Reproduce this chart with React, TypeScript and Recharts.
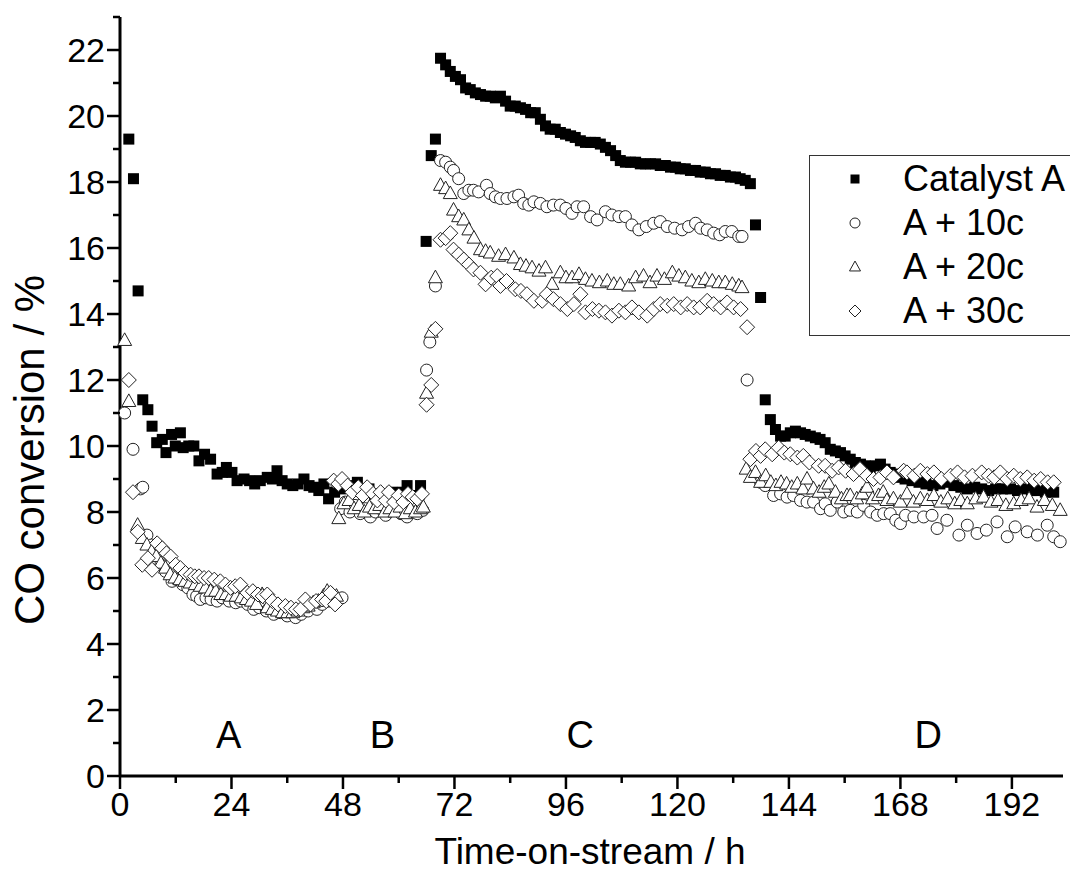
import { ScatterChart, Scatter, XAxis, YAxis, ReferenceDot, Legend } from "recharts"

// time-on-stream (h), CO conversion (%)
const catalystA: [number, number][] = [
  [1.9, 19.3], [2.9, 18.1], [3.9, 14.7], [4.9, 11.4], [6.0, 11.1], [6.9, 10.6], [7.9, 10.1], [9.1, 10.2], [9.9, 9.8],
  [11.1, 10.35], [11.9, 10.0], [13.0, 10.4], [13.6, 9.95], [14.8, 10.0], [15.9, 10.0], [17.0, 9.55], [18.2, 9.75],
  [19.5, 9.6], [20.9, 9.15], [22.0, 9.2], [22.9, 9.35], [24.1, 9.2], [25.2, 8.95], [26.7, 9.0], [27.9, 8.95],
  [29.0, 8.85], [30.2, 8.95], [31.7, 9.05], [32.8, 9.0], [33.8, 9.25], [34.9, 8.95], [36.0, 8.85], [37.2, 8.8],
  [38.3, 8.85], [39.6, 9.0], [40.7, 8.8], [41.7, 8.75], [42.8, 8.65], [43.9, 8.85], [44.9, 8.4], [46.2, 8.6],
  [47.5, 8.7], [48.8, 8.8], [50.0, 8.75], [51.1, 8.9], [52.4, 8.6], [53.6, 8.7], [54.8, 8.5], [56.0, 8.55],
  [57.3, 8.45], [58.5, 8.6], [59.7, 8.5], [60.8, 8.6], [61.8, 8.8], [63.0, 8.5], [64.7, 8.8],
  [65.9, 16.2], [67.0, 18.8], [67.9, 19.3], [69.0, 21.75], [70.1, 21.55], [71.1, 21.35], [72.2, 21.2], [73.3, 21.1],
  [74.4, 20.85], [75.4, 20.8], [76.5, 20.7], [77.6, 20.65], [78.7, 20.6], [79.7, 20.6], [80.8, 20.55], [81.9, 20.6],
  [83.0, 20.45], [84.0, 20.3], [85.1, 20.3], [86.2, 20.25], [87.3, 20.2], [88.4, 20.1], [89.4, 20.1], [90.5, 19.9],
  [91.6, 19.7], [92.6, 19.6], [93.7, 19.6], [94.8, 19.5], [95.9, 19.45], [97.0, 19.4], [98.0, 19.35], [99.1, 19.25],
  [100.2, 19.2], [101.3, 19.2], [102.3, 19.2], [103.4, 19.15], [104.5, 19.05], [105.6, 18.95], [106.7, 18.8],
  [107.7, 18.65], [108.8, 18.6], [109.9, 18.6], [111.0, 18.6], [112.0, 18.55], [113.1, 18.55], [114.2, 18.55],
  [115.3, 18.55], [116.3, 18.5], [117.4, 18.5], [118.5, 18.45], [119.6, 18.45], [120.6, 18.4], [121.7, 18.4],
  [122.8, 18.35], [123.9, 18.35], [124.9, 18.3], [126.0, 18.3], [127.1, 18.25], [128.2, 18.25], [129.2, 18.2],
  [130.3, 18.2], [131.4, 18.15], [132.5, 18.15], [133.5, 18.1], [134.6, 18.05], [135.7, 17.95],
  [136.8, 16.7], [137.9, 14.5], [138.9, 11.4], [140.0, 10.8], [141.1, 10.5], [142.2, 10.3], [143.2, 10.3],
  [144.3, 10.4], [145.4, 10.45], [146.5, 10.4], [147.5, 10.35], [148.6, 10.3], [149.7, 10.25], [150.7, 10.2],
  [151.8, 10.1], [152.9, 9.9], [154.0, 9.85], [155.1, 9.8], [156.1, 9.7], [157.2, 9.6], [158.3, 9.5], [159.4, 9.45],
  [160.4, 9.4], [161.5, 9.35], [162.6, 9.4], [163.7, 9.45], [164.7, 9.3], [165.8, 9.2], [166.9, 9.15], [168.0, 9.05],
  [169.0, 9.0], [170.5, 8.95], [172.0, 8.9], [173.5, 8.85], [175.0, 8.8], [176.5, 8.85], [178.0, 8.9], [179.5, 8.8],
  [181.0, 8.75], [182.4, 8.7], [184.0, 8.75], [185.5, 8.7], [187.0, 8.65], [188.5, 8.7], [190.0, 8.7], [191.7, 8.7],
  [193.2, 8.65], [194.7, 8.7], [196.2, 8.65], [197.7, 8.65], [199.2, 8.6], [201.0, 8.6],
]

const plus10c: [number, number][] = [
  [1.0, 11.0], [2.8, 9.9], [4.4, 8.7], [4.9, 8.75], [5.8, 7.3], [6.8, 7.0], [7.8, 6.7], [8.8, 6.4], [9.8, 6.2],
  [11.2, 5.9], [12.3, 5.95], [13.5, 5.8], [14.6, 5.7], [15.7, 5.5], [16.5, 5.45], [17.3, 5.35], [18.5, 5.4],
  [19.6, 5.35], [20.9, 5.3], [22.0, 5.4], [23.5, 5.3], [24.9, 5.25], [26.0, 5.3], [27.5, 5.2], [28.8, 5.05],
  [30.0, 5.1], [31.5, 5.0], [33.1, 4.9], [34.5, 4.95], [36.0, 4.85], [37.8, 4.8], [39.0, 4.9], [40.5, 5.0],
  [42.4, 5.05], [43.5, 5.2], [45.0, 5.3], [46.3, 5.35], [47.8, 5.4],
  [47.5, 8.1], [48.5, 8.3], [49.5, 8.0], [50.6, 8.2], [51.7, 7.95], [52.8, 8.1], [53.9, 7.85], [55.0, 8.0],
  [56.1, 8.1], [57.2, 7.9], [58.3, 8.05], [59.4, 8.1], [60.5, 7.95], [61.8, 7.85], [62.9, 8.0], [64.0, 7.95], [65.2, 8.05],
  [66.0, 12.3], [66.7, 13.15], [67.9, 14.85], [69.0, 18.65], [70.1, 18.6], [71.1, 18.45], [71.8, 18.35], [72.9, 18.1],
  [74.0, 17.65], [75.1, 17.75], [76.1, 17.75], [77.2, 17.7], [78.9, 17.9], [79.7, 17.65], [80.8, 17.55], [81.9, 17.5],
  [83.3, 17.5], [84.8, 17.55], [85.8, 17.6], [86.9, 17.35], [88.0, 17.3], [89.1, 17.4], [90.5, 17.35], [91.9, 17.25],
  [93.3, 17.3], [94.8, 17.3], [96.0, 17.2], [97.3, 17.05], [98.4, 17.25], [99.8, 17.25], [101.3, 16.95], [102.7, 16.85],
  [104.5, 17.1], [105.9, 17.0], [107.4, 16.95], [108.8, 16.95], [110.2, 16.7], [111.7, 16.55], [113.3, 16.65],
  [114.9, 16.75], [116.3, 16.8], [117.8, 16.65], [119.4, 16.6], [121.0, 16.55], [122.4, 16.65], [123.9, 16.75],
  [125.0, 16.6], [126.4, 16.55], [127.8, 16.45], [129.1, 16.4], [130.3, 16.5], [131.7, 16.5], [133.2, 16.35],
  [133.9, 16.35], [135.0, 12.0],
  [137.9, 8.9], [138.9, 8.8], [140.7, 8.5], [142.2, 8.55], [143.6, 8.45], [145.0, 8.5], [146.5, 8.35], [147.9, 8.3],
  [149.3, 8.3], [150.8, 8.1], [151.8, 8.25], [152.9, 8.05], [154.4, 8.3], [155.8, 8.0], [157.2, 8.05], [158.7, 8.0],
  [160.1, 8.2], [161.6, 8.0], [163.0, 7.9], [164.4, 7.95], [165.8, 7.95], [167.0, 7.75], [168.0, 7.65], [169.1, 7.9],
  [170.9, 7.85], [173.0, 7.85], [174.8, 7.9], [175.9, 7.5], [178.0, 7.75], [180.6, 7.3], [182.4, 7.6], [184.5, 7.35],
  [186.5, 7.45], [188.8, 7.7], [191.0, 7.25], [192.7, 7.55], [195.3, 7.4], [197.5, 7.3], [199.6, 7.6], [201.0, 7.25],
  [202.4, 7.1],
]

const plus20c: [number, number][] = [
  [1.0, 13.2], [1.9, 11.35], [3.8, 7.6], [4.8, 7.2], [5.8, 7.0], [6.8, 6.8], [7.8, 6.65], [8.8, 6.45], [9.8, 6.3],
  [10.8, 6.1], [11.8, 6.0], [12.9, 5.95], [14.0, 5.9], [15.1, 5.85], [16.2, 5.8], [17.3, 5.75], [18.4, 5.7],
  [19.5, 5.6], [20.6, 5.6], [21.7, 5.5], [22.8, 5.5], [23.9, 5.45], [25.0, 5.45], [26.1, 5.4], [27.2, 5.35],
  [28.3, 5.3], [29.4, 5.2], [30.6, 5.5], [31.7, 5.1], [32.8, 5.05], [33.9, 5.0], [35.0, 4.95], [36.1, 4.95],
  [37.2, 4.95], [38.3, 5.0], [39.4, 5.1], [40.5, 5.15], [41.6, 5.25], [42.7, 5.3], [43.8, 5.45], [44.6, 5.6],
  [45.7, 5.5], [46.6, 5.45],
  [47.1, 7.8], [48.2, 8.25], [49.3, 8.35], [50.4, 8.1], [51.5, 8.2], [52.6, 8.0], [53.7, 8.15], [54.8, 8.1],
  [55.9, 8.2], [57.0, 8.0], [58.1, 8.1], [59.2, 8.0], [60.3, 8.15], [61.4, 7.95], [62.5, 8.1], [63.6, 8.0],
  [64.7, 8.1], [65.3, 8.15],
  [66.0, 11.6], [67.0, 13.45], [67.9, 15.1], [69.0, 17.9], [70.1, 17.8], [71.1, 17.65], [71.8, 17.15], [72.9, 16.95],
  [74.0, 16.85], [75.1, 16.55], [76.2, 16.3], [77.6, 15.95], [78.7, 15.9], [79.7, 15.85], [81.5, 15.75], [83.0, 15.8],
  [84.8, 15.7], [86.2, 15.5], [87.4, 15.45], [88.7, 15.4], [90.2, 15.3], [91.6, 15.4], [93.0, 14.9], [94.8, 15.25],
  [96.0, 15.1], [97.3, 15.1], [98.8, 15.2], [100.2, 15.05], [101.6, 15.0], [103.2, 14.95], [104.9, 15.0],
  [106.3, 14.9], [107.7, 14.9], [109.5, 14.85], [111.0, 15.1], [112.7, 15.15], [114.1, 14.95], [115.6, 15.15],
  [117.2, 15.05], [118.9, 15.25], [120.3, 15.15], [121.7, 15.1], [123.1, 15.0], [124.6, 14.95], [126.0, 15.05],
  [127.5, 15.0], [128.9, 14.95], [130.3, 14.95], [131.8, 14.9], [133.2, 14.85], [133.9, 14.8],
  [134.8, 9.3], [135.7, 9.05], [136.8, 9.2], [137.9, 8.9], [139.0, 9.1], [140.1, 8.9], [141.2, 8.8], [142.3, 8.9],
  [143.5, 8.85], [144.6, 8.75], [145.8, 8.85], [147.0, 8.7], [147.9, 9.0], [149.3, 8.7], [150.5, 8.6], [151.6, 8.75],
  [152.6, 8.85], [154.0, 8.6], [155.3, 8.4], [156.5, 8.5], [157.2, 8.5], [158.6, 8.4], [159.8, 8.55], [160.8, 8.75],
  [162.0, 8.4], [163.3, 8.5], [164.3, 8.6], [165.1, 8.35], [166.5, 8.4], [168.0, 8.3], [169.4, 8.55], [170.8, 8.3],
  [172.3, 8.4], [173.8, 8.35], [175.2, 8.5], [176.7, 8.3], [178.2, 8.4], [179.7, 8.25], [181.0, 8.35], [182.4, 8.25],
  [184.2, 8.4], [185.9, 8.45], [187.5, 8.3], [189.0, 8.35], [190.7, 8.2], [192.4, 8.25], [194.0, 8.35], [195.7, 8.4],
  [197.4, 8.15], [199.0, 8.35], [200.7, 8.2], [202.4, 8.05],
]

const plus30c: [number, number][] = [
  [1.9, 12.0], [2.8, 8.6], [3.8, 7.4], [4.8, 6.4], [6.0, 6.6], [6.9, 6.25], [8.0, 7.05], [9.1, 6.9], [10.0, 6.75],
  [10.9, 6.65], [12.0, 6.4], [13.0, 6.3], [14.1, 6.15], [15.2, 6.1], [16.1, 6.05], [17.0, 6.05], [18.1, 6.0],
  [19.1, 6.0], [20.3, 5.95], [21.6, 5.9], [22.7, 5.8], [23.8, 5.7], [24.8, 5.75], [25.9, 5.8], [27.4, 5.55],
  [28.6, 5.6], [29.7, 5.5], [30.7, 5.45], [31.7, 5.5], [32.8, 5.3], [34.0, 5.2], [35.6, 5.15], [36.8, 5.1],
  [37.9, 5.05], [38.9, 5.05], [39.9, 5.35], [41.0, 5.2], [42.2, 5.3], [43.5, 5.35], [44.4, 5.3], [45.3, 5.55], [46.3, 5.2],
  [46.0, 8.95], [47.0, 8.85], [47.8, 9.0], [49.0, 8.8], [50.0, 8.6], [51.3, 8.75], [52.3, 8.5], [53.2, 8.75],
  [54.5, 8.55], [55.4, 8.35], [56.1, 8.6], [57.2, 8.35], [57.9, 8.6], [59.0, 8.3], [60.0, 8.5], [61.0, 8.3],
  [62.0, 8.55], [63.0, 8.45], [64.0, 8.4], [65.0, 8.55],
  [66.0, 11.25], [67.0, 11.85], [67.9, 13.55], [69.0, 16.25], [70.1, 16.3], [71.1, 16.45], [71.8, 15.95], [72.9, 15.8],
  [74.0, 15.65], [75.1, 15.5], [76.1, 15.35], [77.6, 15.25], [78.7, 14.9], [79.9, 15.1], [81.2, 15.15], [81.9, 14.85],
  [83.2, 15.0], [85.1, 14.75], [86.3, 14.7], [87.6, 14.6], [89.1, 14.4], [90.9, 14.4], [91.9, 14.6], [93.3, 14.45],
  [94.8, 14.3], [96.3, 14.15], [97.7, 14.3], [99.1, 14.6], [100.2, 14.05], [101.7, 14.15], [103.1, 14.1],
  [104.5, 14.05], [105.9, 13.95], [107.4, 14.1], [108.8, 14.05], [110.2, 14.2], [111.7, 14.05], [113.5, 13.95],
  [114.9, 14.15], [116.3, 14.3], [117.8, 14.25], [119.2, 14.3], [120.7, 14.2], [122.1, 14.3], [123.5, 14.2],
  [124.9, 14.2], [126.4, 14.4], [127.8, 14.3], [129.3, 14.2], [130.7, 14.35], [132.1, 14.2], [133.6, 14.15], [135.0, 13.6],
  [135.7, 9.6], [136.9, 9.85], [137.9, 9.7], [138.9, 9.9], [140.4, 9.75], [141.8, 9.95], [143.0, 9.8], [144.3, 9.75],
  [145.8, 9.65], [147.1, 9.7], [148.4, 9.5], [150.4, 9.4], [151.8, 9.4], [153.3, 9.25], [154.7, 9.35], [156.2, 9.25],
  [157.9, 9.15], [159.3, 9.3], [160.8, 9.1], [162.2, 9.0], [163.7, 9.05], [165.1, 9.2], [166.5, 9.05], [168.7, 9.25],
  [169.4, 9.2], [171.0, 9.1], [172.3, 9.25], [173.8, 9.15], [175.2, 9.2], [176.8, 9.0], [178.8, 9.1], [180.3, 9.2],
  [181.8, 9.05], [183.5, 9.1], [185.5, 9.2], [187.0, 9.1], [188.2, 9.05], [189.5, 9.2], [191.0, 9.0], [192.4, 9.1],
  [193.8, 9.0], [195.3, 9.05], [196.8, 8.95], [198.2, 9.0], [199.7, 8.9], [201.0, 8.9],
]

const seriesNames = ["Catalyst A", "A + 10c", "A + 20c", "A + 30c"]

const xTicks = [0, 12, 24, 36, 48, 60, 72, 84, 96, 108, 120, 132, 144, 156, 168, 180, 192]
const yTicks = [0, 1, 2, 3, 4, 5, 6, 7, 8, 9, 10, 11, 12, 13, 14, 15, 16, 17, 18, 19, 20, 21, 22, 23]

const regionNames = ["A", "B", "C", "D"]
const regionTimes = [23.4, 56.5, 99.1, 174]
const regionLevel = 1.25

const FONT = '"Liberation Sans", Arial, sans-serif'
const NARROW = '"Liberation Sans Narrow", "Arial Narrow", sans-serif'

const toPoints = (arr: [number, number][]) => arr.map(([x, y]) => ({ x, y }))

// marker shapes
function Square({ cx, cy, s = 11 }: any) {
  return <rect x={cx - s / 2} y={cy - s / 2} width={s} height={s} fill="#000" />
}
function Circle({ cx, cy, r = 6 }: any) {
  return <circle cx={cx} cy={cy} r={r} fill="#fff" stroke="#222" strokeWidth={1} />
}
function Triangle({ cx, cy, s = 14 }: any) {
  const h = s * 0.9
  return (
    <polygon
      points={`${cx},${cy - h * 0.6} ${cx - s / 2},${cy + h * 0.4} ${cx + s / 2},${cy + h * 0.4}`}
      fill="#fff" stroke="#222" strokeWidth={1}
    />
  )
}
function Diamond({ cx, cy, s = 7.5 }: any) {
  return (
    <polygon
      points={`${cx},${cy - s} ${cx + s},${cy} ${cx},${cy + s} ${cx - s},${cy}`}
      fill="#fff" stroke="#222" strokeWidth={1}
    />
  )
}

function XTick(props: any) {
  const { x, y, payload } = props
  const major = payload.value % 24 === 0
  return (
    <g>
      <line x1={x} x2={x} y1={y} y2={y + (major ? 13 : 7)} stroke="#000" strokeWidth={2.5} />
      {major && (
        <text x={x} y={y + 40} textAnchor="middle" fontSize={34} fontFamily={NARROW} fill="#000">
          {payload.value}
        </text>
      )}
    </g>
  )
}

function YTick(props: any) {
  const { x, y, payload } = props
  const major = payload.value % 2 === 0
  return (
    <g>
      <line x1={x} x2={x - (major ? 13 : 7)} y1={y} y2={y} stroke="#000" strokeWidth={2.5} />
      {major && (
        <text x={x - 15} y={y + 12} textAnchor="end" fontSize={34} fontFamily={NARROW} fill="#000">
          {payload.value}
        </text>
      )}
    </g>
  )
}

const legendShapes: Record<string, (cx: number, cy: number) => any> = {
  "Catalyst A": (cx, cy) => <Square cx={cx} cy={cy} s={9} />,
  "A + 10c": (cx, cy) => <Circle cx={cx} cy={cy} r={5} />,
  "A + 20c": (cx, cy) => <Triangle cx={cx} cy={cy} s={11} />,
  "A + 30c": (cx, cy) => <Diamond cx={cx} cy={cy} s={6} />,
}

function LegendBox(props: any) {
  const items = [...(props.payload || [])].sort(
    (a: any, b: any) => seriesNames.indexOf(a.value) - seriesNames.indexOf(b.value)
  )
  return (
    <div style={{ border: "1.5px solid #333", background: "#fff", width: 262, height: 181, boxSizing: "border-box", paddingTop: 1 }}>
      {items.map((it: any) => (
        <div key={it.value} style={{ display: "flex", alignItems: "center", height: 44 }}>
          <svg width={93} height={44}>{legendShapes[it.value]?.(45, 22)}</svg>
          <span style={{ fontFamily: FONT, fontSize: 36, color: "#000", lineHeight: "44px", whiteSpace: "nowrap" }}>{it.value}</span>
        </div>
      ))}
    </div>
  )
}

export default function App() {
  return (
    <div style={{ position: "absolute", left: 0, top: 0, width: 1070, height: 887, background: "#fff", overflow: "hidden" }}>
      <ScatterChart width={1070} height={887} margin={{ top: 17, right: 7, bottom: 0, left: 0 }}>
        <XAxis
          type="number" dataKey="x" domain={[0, 203]} ticks={xTicks} interval={0}
          height={111} tickSize={0} tickMargin={0} tickLine={false}
          axisLine={{ stroke: "#000", strokeWidth: 3 }}
          tick={(p: any) => <XTick {...p} />}
          label={() => (
            <text x={590} y={864} textAnchor="middle" fontSize={37} fontFamily={FONT} fill="#000">
              Time-on-stream / h
            </text>
          )}
        />
        <YAxis
          type="number" dataKey="y" domain={[0, 23]} ticks={yTicks} interval={0}
          width={120} tickSize={0} tickMargin={0} tickLine={false}
          axisLine={{ stroke: "#000", strokeWidth: 3 }}
          tick={(p: any) => <YTick {...p} />}
          label={() => (
            <text transform="translate(44,450) rotate(-90)" textAnchor="middle" fontSize={42} fontFamily={FONT} fill="#000">
              CO conversion / %
            </text>
          )}
        />
        <Legend
          layout="horizontal" verticalAlign="middle" align="center"
          wrapperStyle={{ position: "absolute", left: 809, top: 155, width: 262, height: 181 }}
          content={(p: any) => <LegendBox {...p} />}
        />
        <Scatter name="Catalyst A" data={toPoints(catalystA)} isAnimationActive={false} fill="#000"
          shape={(p: any) => <Square cx={p.cx} cy={p.cy} />} />
        <Scatter name="A + 10c" data={toPoints(plus10c)} isAnimationActive={false} fill="#fff"
          shape={(p: any) => <Circle cx={p.cx} cy={p.cy} />} />
        <Scatter name="A + 20c" data={toPoints(plus20c)} isAnimationActive={false} fill="#fff"
          shape={(p: any) => <Triangle cx={p.cx} cy={p.cy} />} />
        <Scatter name="A + 30c" data={toPoints(plus30c)} isAnimationActive={false} fill="#fff"
          shape={(p: any) => <Diamond cx={p.cx} cy={p.cy} />} />
        {regionNames.map((n, i) => (
          <ReferenceDot key={n} x={regionTimes[i]} y={regionLevel} r={0} fill="none" stroke="none"
            label={{ value: n, position: "center", fontSize: 38, fill: "#000", fontFamily: FONT }} />
        ))}
      </ScatterChart>
    </div>
  )
}
